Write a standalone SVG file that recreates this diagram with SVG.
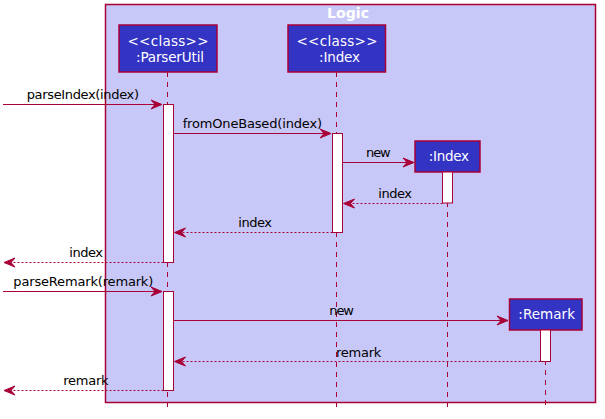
<svg xmlns="http://www.w3.org/2000/svg" width="605" height="419" viewBox="0 0 605 419">
<defs>
<style>
.t{font-family:"DejaVu Sans",sans-serif;font-size:13px;fill:#000}
.w{font-family:"DejaVu Sans",sans-serif;font-size:13.5px;fill:#fff}
.box{fill:#3333C4;stroke:#A80036;stroke-width:1.5}
.act{fill:#fff;stroke:#A80036;stroke-width:1}
.life{stroke:#A80036;stroke-width:1;stroke-dasharray:5,5;fill:none}
.msg{stroke:#A80036;stroke-width:1;fill:none}
.ret{stroke:#A80036;stroke-width:1;stroke-dasharray:2,2;fill:none}
.ah{fill:#A80036;stroke:#A80036}
</style>
</defs>
<rect width="605" height="419" fill="#fff"/>
<g id="frame">
<rect x="105.5" y="4.5" width="490" height="398" fill="#C8C8F8" stroke="#A80036" stroke-width="1.5"/>
<text x="327" y="17.5" font-family="DejaVu Sans,sans-serif" font-size="14.3" font-weight="bold" fill="#fff" textLength="42" lengthAdjust="spacingAndGlyphs">Logic</text>
</g>
<g id="lifelines">
<line class="life" x1="167.5" y1="72" x2="167.5" y2="408"/>
<line class="life" x1="336.5" y1="72" x2="336.5" y2="408"/>
<line class="life" x1="447.5" y1="172" x2="447.5" y2="408"/>
<line class="life" x1="545.5" y1="330" x2="545.5" y2="408"/>
</g>
<g id="ParserUtil">
<rect class="box" x="119" y="25" width="98" height="47"/>
<text class="w" x="127.5" y="45.5" textLength="81" lengthAdjust="spacing">&lt;&lt;class&gt;&gt;</text>
<text class="w" x="136" y="62" textLength="68" lengthAdjust="spacing">:ParserUtil</text>
</g>
<g id="IndexClass">
<rect class="box" x="288" y="25" width="97.5" height="47"/>
<text class="w" x="296.5" y="45.5" textLength="81" lengthAdjust="spacing">&lt;&lt;class&gt;&gt;</text>
<text class="w" x="319" y="62" textLength="41" lengthAdjust="spacing">:Index</text>
</g>
<g id="IndexObj">
<rect class="box" x="415" y="141" width="65" height="31"/>
<text class="w" x="428.7" y="161" textLength="40.3" lengthAdjust="spacing">:Index</text>
</g>
<g id="Remark">
<rect class="box" x="509.5" y="299" width="72.5" height="31"/>
<text class="w" x="518.3" y="319" textLength="56.7" lengthAdjust="spacing">:Remark</text>
</g>
<g id="activations">
<rect class="act" x="163.5" y="104.5" width="10" height="158"/>
<rect class="act" x="332.5" y="133.5" width="10" height="99"/>
<rect class="act" x="442.5" y="172" width="10" height="31"/>
<rect class="act" x="163.5" y="291.5" width="10" height="99"/>
<rect class="act" x="540.5" y="330" width="10" height="31.5"/>
</g>
<g id="connectors">
<line class="msg" x1="3" y1="104.5" x2="161" y2="104.5"/>
<polygon class="ah" points="162,104.5 151,100 155,104.5 151,109"/>
<text class="t" x="26.7" y="98.5" textLength="112.3" lengthAdjust="spacing">parseIndex(index)</text>

<line class="msg" x1="173.5" y1="133.5" x2="330" y2="133.5"/>
<polygon class="ah" points="331,133.5 320,129 324,133.5 320,138"/>
<text class="t" x="182.7" y="128" textLength="139.3" lengthAdjust="spacing">fromOneBased(index)</text>

<line class="msg" x1="342.5" y1="162.5" x2="413" y2="162.5"/>
<polygon class="ah" points="414,162.5 403,158 407,162.5 403,167"/>
<text class="t" x="366" y="157" textLength="24.7" lengthAdjust="spacing">new</text>

<line class="ret" x1="442.5" y1="203.5" x2="344" y2="203.5"/>
<polygon class="ah" points="343.5,203.5 354.5,199 350.5,203.5 354.5,208"/>
<text class="t" x="378.3" y="198" textLength="33.7" lengthAdjust="spacing">index</text>

<line class="ret" x1="332.5" y1="232.5" x2="175" y2="232.5"/>
<polygon class="ah" points="174.5,232.5 185.5,228 181.5,232.5 185.5,237"/>
<text class="t" x="238.3" y="227" textLength="33.7" lengthAdjust="spacing">index</text>

<line class="ret" x1="163.5" y1="262.5" x2="5" y2="262.5"/>
<polygon class="ah" points="4,262.5 15,258 11,262.5 15,267"/>
<text class="t" x="69.3" y="257" textLength="33.7" lengthAdjust="spacing">index</text>

<line class="msg" x1="3" y1="291.5" x2="161" y2="291.5"/>
<polygon class="ah" points="162,291.5 151,287 155,291.5 151,296"/>
<text class="t" x="13.3" y="286" textLength="140" lengthAdjust="spacing">parseRemark(remark)</text>

<line class="msg" x1="173.5" y1="320.5" x2="507" y2="320.5"/>
<polygon class="ah" points="508,320.5 497,316 501,320.5 497,325"/>
<text class="t" x="329.3" y="315" textLength="24.7" lengthAdjust="spacing">new</text>

<line class="ret" x1="540.5" y1="361.5" x2="175" y2="361.5"/>
<polygon class="ah" points="174.5,361.5 185.5,357 181.5,361.5 185.5,366"/>
<text class="t" x="336" y="357" textLength="45.3" lengthAdjust="spacing">remark</text>

<line class="ret" x1="163.5" y1="390.5" x2="5" y2="390.5"/>
<polygon class="ah" points="4,390.5 15,386 11,390.5 15,395"/>
<text class="t" x="63.3" y="385" textLength="45.3" lengthAdjust="spacing">remark</text>
</g>
</svg>
